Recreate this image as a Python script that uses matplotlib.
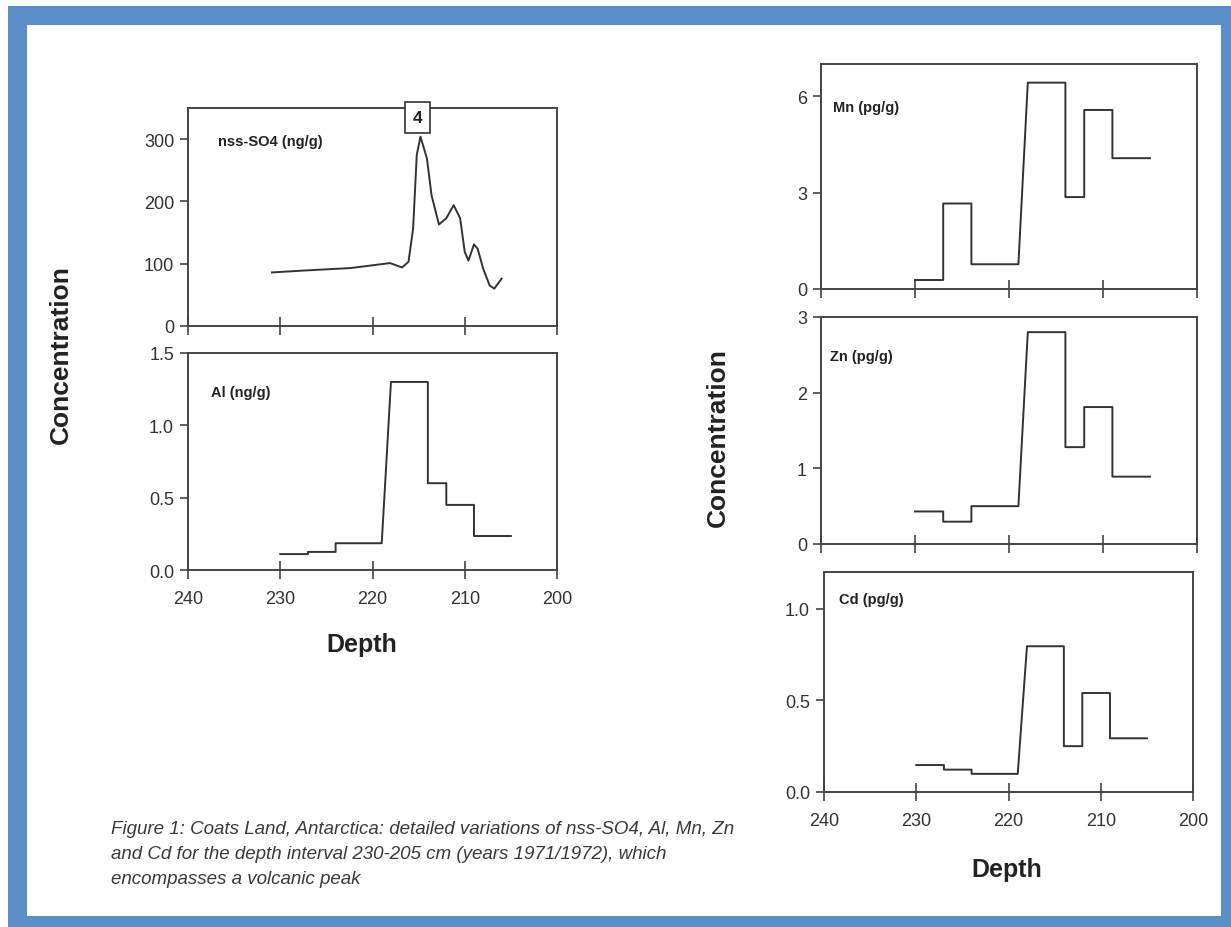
import matplotlib
matplotlib.use("Agg")
from matplotlib import pyplot as plt
from matplotlib.patches import Rectangle

# nss-SO4 curve (depth cm, ng/g)
so4_depth = [230.9, 227.5, 222.4, 218.1, 216.8, 216.1, 215.6, 215.2, 214.8, 214.1,
             213.6, 212.8, 212.0, 211.2, 210.5, 210.0, 209.6, 209.0, 208.6, 208.0,
             207.3, 206.8, 206.0]
so4_conc = [86, 89, 93, 101, 94, 103, 156, 275, 304, 269,
            210, 163, 173, 194, 173, 119, 105, 131, 124, 92,
            65, 60, 76]

# sample intervals (top/bottom depth) for the stepped series
seg_start = [230, 227, 224, 218, 214, 212, 209]
seg_end = [227, 224, 219, 214, 212, 209, 205]
al_conc = [0.11, 0.125, 0.185, 1.30, 0.60, 0.45, 0.235]
mn_conc = [0.28, 2.66, 0.77, 6.42, 2.86, 5.57, 4.07]
zn_conc = [0.43, 0.295, 0.50, 2.80, 1.28, 1.81, 0.89]
cd_conc = [0.147, 0.122, 0.099, 0.795, 0.25, 0.54, 0.293]

depth_ticks = [240, 230, 220, 210, 200]
peak_depth = 215.1
peak_label = "4"

caption = ("Figure 1: Coats Land, Antarctica: detailed variations of nss-SO4, Al, Mn, Zn\n"
           "and Cd for the depth interval 230-205 cm (years 1971/1972), which\n"
           "encompasses a volcanic peak")

W, H = 1231, 928
plt.rcParams['font.family'] = ['Liberation Sans', 'DejaVu Sans']
fig = plt.figure(figsize=(W / 100, H / 100), dpi=100)

# blue frame
fig.patches.append(Rectangle((8 / W, 0), 1 - 8 / W, 1 - 7 / H, transform=fig.transFigure,
                             facecolor='#5a8fca', edgecolor='none', zorder=-2))
fig.patches.append(Rectangle((27 / W, 1 - 917 / H), (1221 - 27) / W, (917 - 26) / H,
                             transform=fig.transFigure, facecolor='white', edgecolor='none', zorder=-1))

ink = '#333333'


def add_ax(x0, x1, top, bottom):
    ax = fig.add_axes([x0 / W, 1 - bottom / H, (x1 - x0) / W, (bottom - top) / H])
    ax.set_xlim(240, 200)
    ax.set_xticks(depth_ticks)
    for s in ax.spines.values():
        s.set_color('#444444')
        s.set_linewidth(1.4)
    ax.tick_params(axis='y', direction='out', length=6, width=1.2, color='#444444',
                   labelsize=13, labelcolor=ink, pad=4)
    ax.tick_params(axis='x', direction='inout', length=13, width=1.2, color='#444444',
                   labelsize=13, labelcolor=ink, pad=8)
    return ax


def steps(ax, vals):
    xs, ys = [], []
    for a, b, v in zip(seg_start, seg_end, vals):
        xs += [a, b]
        ys += [v, v]
    ax.plot(xs, ys, color=ink, lw=1.4)


def panel_label(ax, x, y, text):
    ax.text(x, y, text, transform=ax.transAxes, ha='left', va='center',
            fontsize=10.5, fontweight='bold', color='#222222')


# left column
ax1 = add_ax(188, 557, 109, 327)
ax1.plot(so4_depth, so4_conc, color=ink, lw=1.4)
ax1.set_ylim(0, 350)
ax1.set_yticks([0, 100, 200, 300])
ax1.tick_params(axis='x', labelbottom=False)
panel_label(ax1, 0.082, 0.85, "nss-SO4 (ng/g)")
ax1.text(peak_depth, 0.955, peak_label, transform=ax1.get_xaxis_transform(),
         ha='center', va='center', fontsize=12.5, fontweight='bold', color='#222222',
         bbox=dict(boxstyle='square,pad=0.45', facecolor='white', edgecolor='#333333', lw=1.2),
         clip_on=False)

ax2 = add_ax(188, 557, 354, 571)
steps(ax2, al_conc)
ax2.set_ylim(0, 1.5)
ax2.set_yticks([0, 0.5, 1.0, 1.5])
ax2.set_yticklabels(['0.0', '0.5', '1.0', '1.5'])
panel_label(ax2, 0.061, 0.82, "Al (ng/g)")

# right column
ax3 = add_ax(821, 1197, 65, 290)
steps(ax3, mn_conc)
ax3.set_ylim(0, 7)
ax3.set_yticks([0, 3, 6])
ax3.tick_params(axis='x', labelbottom=False)
panel_label(ax3, 0.031, 0.81, "Mn (pg/g)")

ax4 = add_ax(821, 1197, 318, 545)
steps(ax4, zn_conc)
ax4.set_ylim(0, 3)
ax4.set_yticks([0, 1, 2, 3])
ax4.tick_params(axis='x', labelbottom=False)
panel_label(ax4, 0.024, 0.83, "Zn (pg/g)")

ax5 = add_ax(824, 1193, 573, 793)
steps(ax5, cd_conc)
ax5.set_ylim(0, 1.2)
ax5.set_yticks([0, 0.5, 1.0])
ax5.set_yticklabels(['0.0', '0.5', '1.0'])
panel_label(ax5, 0.04, 0.877, "Cd (pg/g)")

# axis titles
fig.text(61 / W, 1 - 355 / H, "Concentration", rotation=90, ha='center', va='center',
         fontsize=19, fontweight='bold', color='#222222')
fig.text(718 / W, 1 - 438 / H, "Concentration", rotation=90, ha='center', va='center',
         fontsize=19, fontweight='bold', color='#222222')
fig.text(362 / W, 1 - 645 / H, "Depth", ha='center', va='center',
         fontsize=18, fontweight='bold', color='#222222')
fig.text(1007 / W, 1 - 870 / H, "Depth", ha='center', va='center',
         fontsize=18, fontweight='bold', color='#222222')

fig.text(111 / W, 1 - 821 / H, caption, ha='left', va='top', fontsize=13.5,
         style='italic', color='#3a3a3a', linespacing=1.6)

fig.savefig("out.png", dpi=100)
